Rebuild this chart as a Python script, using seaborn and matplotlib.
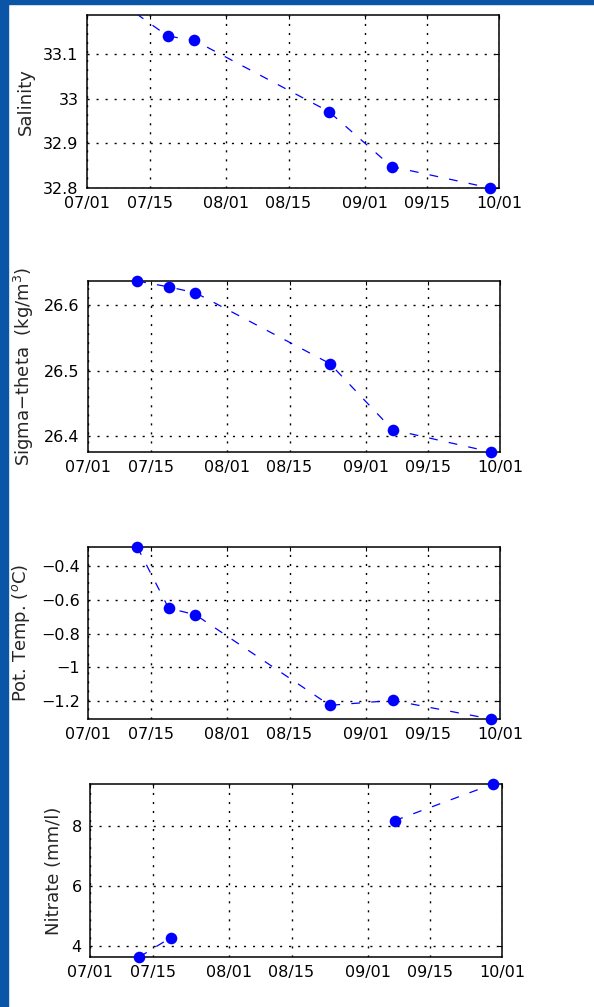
import numpy as np
import pandas as pd
import matplotlib
matplotlib.use("Agg")
import matplotlib.pyplot as plt
import matplotlib.dates as mdates
import seaborn as sns
from matplotlib.patches import Rectangle

# ---------------- data ----------------
dates = ["2002-07-12", "2002-07-19", "2002-07-25", "2002-08-24", "2002-09-07", "2002-09-29"]
salinity = [33.19, 33.14, 33.13, 32.971, 32.848, 32.800]
sigma_theta = [26.637, 26.628, 26.619, 26.511, 26.410, 26.376]
pot_temp = [-0.288, -0.650, -0.689, -1.225, -1.196, -1.306]
nitrate = [3.64, 4.28, np.nan, np.nan, 8.17, 9.39]

x_tick_dates = ["2002-07-01", "2002-07-15", "2002-08-01", "2002-08-15",
                "2002-09-01", "2002-09-15", "2002-10-01"]
x_tick_labels = ["07/01", "07/15", "08/01", "08/15", "09/01", "09/15", "10/01"]

sal_ticks = [32.8, 32.9, 33.0, 33.1]
sal_labels = ["32.8", "32.9", "33", "33.1"]
sig_ticks = [26.4, 26.5, 26.6]
sig_labels = ["26.4", "26.5", "26.6"]
tmp_ticks = [-1.2, -1.0, -0.8, -0.6, -0.4]
tmp_labels = ["\u22121.2", "\u22121", "\u22120.8", "\u22120.6", "\u22120.4"]
nit_ticks = [4, 6, 8]
nit_labels = ["4", "6", "8"]

ylabels = ["Salinity", r"Sigma$-$theta  (kg/m$^3$)", r"Pot. Temp. ($^o$C)", "Nitrate (mm/l)"]

# ---------------- style ----------------
sns.set_theme(style="white")
plt.rcParams["font.family"] = ["DejaVu Sans"]
plt.rcParams["mathtext.fontset"] = "dejavusans"

W, H = 594, 1007
fig = plt.figure(figsize=(W / 100, H / 100), dpi=100)
fig.patch.set_facecolor("white")
border = "#0A55A5"
fig.add_artist(Rectangle((0, 0), 8 / W, 1, transform=fig.transFigure, color=border, zorder=0))
fig.add_artist(Rectangle((0, 1 - 4 / H), 1, 4 / H, transform=fig.transFigure, color=border, zorder=0))

# axes boxes in pixels: (left, top, right, bottom)
boxes = [(87, 15, 499, 188), (88, 281, 500, 452), (88, 547, 500, 719), (90, 784, 502, 957)]

series = [salinity, sigma_theta, pot_temp, nitrate]
ylims = [(32.800, 33.187), (26.376, 26.637), (-1.306, -0.288), (3.64, 9.39)]
ticks = [(sal_ticks, sal_labels), (sig_ticks, sig_labels), (tmp_ticks, tmp_labels), (nit_ticks, nit_labels)]

xd = pd.to_datetime(dates)
xt = pd.to_datetime(x_tick_dates)

for i, vals in enumerate(series):
    l, t, r, b = boxes[i]
    ax = fig.add_axes([l / W, 1 - b / H, (r - l) / W, (b - t) / H])
    y = np.array(vals, dtype=float)
    seg = np.cumsum(np.isnan(y))
    df = pd.DataFrame({"date": xd, "value": y, "seg": seg}).dropna()

    sns.lineplot(data=df, x="date", y="value", units="seg", estimator=None, sort=False,
                 ax=ax, color="blue", lw=0.9, linestyle=(0, (7, 9)), zorder=3)

    lo, hi = ylims[i]
    eps = (hi - lo) * 0.005
    inside = df[(df["value"] >= lo - eps) & (df["value"] <= hi + eps)]
    sns.scatterplot(data=inside, x="date", y="value", ax=ax, color="blue", s=70,
                    linewidth=0, clip_on=False, zorder=4)

    ax.set_xlim(xt[0], xt[-1])
    ax.set_ylim(lo, hi)
    ax.set_xticks(xt)
    ax.set_xticklabels(x_tick_labels)
    ax.set_yticks(ticks[i][0])
    ax.set_yticklabels(ticks[i][1])
    ax.set_xlabel("")
    ax.set_ylabel(ylabels[i], fontsize=13, labelpad=6)

    ax.grid(True, color="black", linestyle=(0, (1.5, 5)), linewidth=1.0)
    ax.set_axisbelow(True)
    ax.tick_params(axis="both", which="major", labelsize=11.5, direction="in",
                   length=3, width=0.8, color="black", labelcolor="black",
                   top=True, right=True, pad=6)
    for sp in ax.spines.values():
        sp.set_visible(True)
        sp.set_color("black")
        sp.set_linewidth(1.1)
    ax.set_facecolor("white")

fig.savefig("out.png", dpi=100, facecolor="white")
